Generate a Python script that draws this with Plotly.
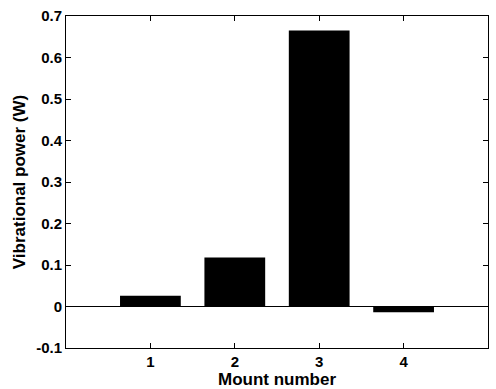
import plotly.graph_objects as go

mounts = [1, 2, 3, 4]
power = [0.026, 0.118, 0.665, -0.014]
yticks = [-0.1, 0, 0.1, 0.2, 0.3, 0.4, 0.5, 0.6, 0.7]
ytick_labels = ["-0.1", "0", "0.1", "0.2", "0.3", "0.4", "0.5", "0.6", "0.7"]

family = "Liberation Sans, Arial, sans-serif"

fig = go.Figure()
fig.add_trace(go.Bar(
    x=mounts, y=power, width=0.72,
    marker=dict(color="black", line=dict(width=0)),
))

fig.update_layout(
    width=496, height=389,
    margin=dict(l=66, r=7, t=11, b=40),
    paper_bgcolor="white", plot_bgcolor="white",
    showlegend=False,
    font=dict(family=family, color="black"),
)
fig.update_xaxes(
    range=[0, 5], tickvals=mounts, ticktext=[str(m) for m in mounts],
    ticks="inside", ticklen=5, tickcolor="black", mirror="ticks",
    showline=True, linecolor="black", linewidth=1, showgrid=False, zeroline=False,
    tickfont=dict(size=15, family=family, color="black", weight="bold"),
    title=dict(text="Mount number",
               font=dict(size=17, family=family, color="black", weight="bold"),
               standoff=0),
)
fig.update_yaxes(
    range=[-0.1, 0.7], tickvals=yticks, ticktext=ytick_labels,
    ticks="inside", ticklen=5, tickcolor="black", mirror="ticks",
    showline=True, linecolor="black", linewidth=1, showgrid=False,
    zeroline=True, zerolinecolor="black", zerolinewidth=1,
    tickfont=dict(size=15, family=family, color="black", weight="bold"),
    title=dict(text="Vibrational power (W)",
               font=dict(size=17, family=family, color="black", weight="bold"),
               standoff=6),
)

fig.write_html("out.html")
